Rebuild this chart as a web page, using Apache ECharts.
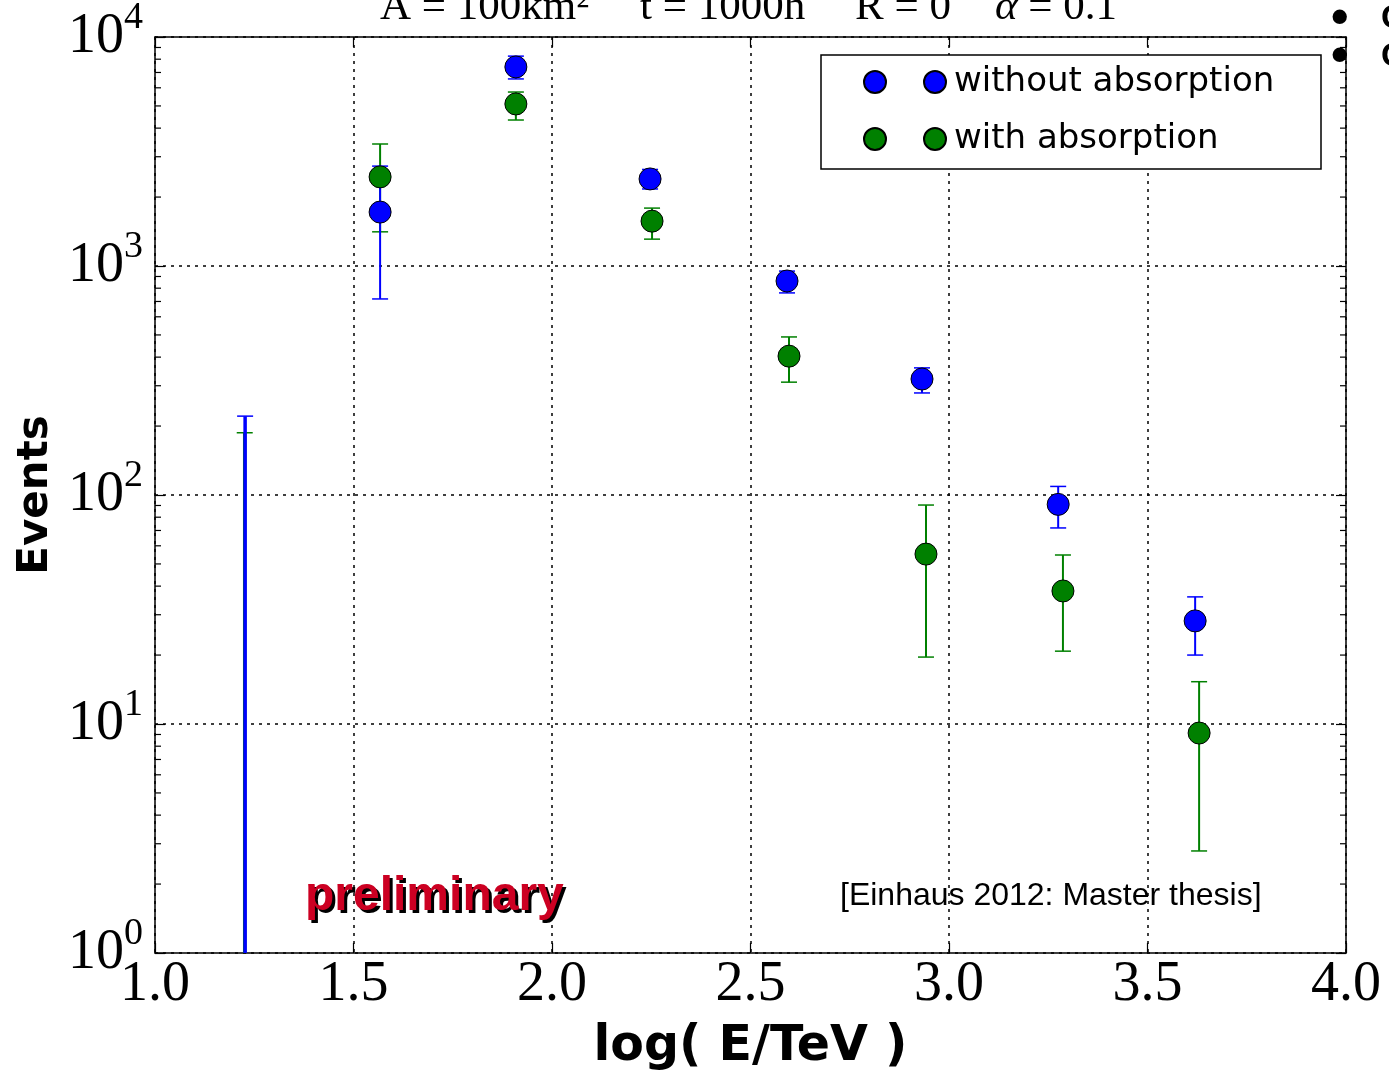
<!DOCTYPE html>
<html>
<head>
<meta charset="utf-8">
<script src="https://cdn.jsdelivr.net/npm/echarts@6/dist/echarts.min.js"></script>
<style>
  html, body { margin: 0; padding: 0; background: #fff; }
  #chart { width: 1389px; height: 1076px; }
</style>
</head>
<body>
<div id="chart"></div>
<script>
// values
const xMin = 1.0
const xMax = 4.0
const yMin = 1
const yMax = 10000

const xWithout = [1.227, 1.567, 1.909, 2.247, 2.592, 2.932, 3.275, 3.620]
const eventsWithout = [null, 1720, 7400, 2400, 860, 321, 91, 28.2]
const upperWithout = [221, 2730, 8250, 2640, 950, 359, 109, 35.9]
const lowerWithout = [0, 718, 6560, 2170, 763, 279, 71.8, 20.0]

const xWith = [1.226, 1.567, 1.909, 2.252, 2.597, 2.942, 3.287, 3.630]
const eventsWith = [null, 2450, 5100, 1570, 404, 55.2, 38.1, 9.13]
const upperWith = [187, 3410, 5750, 1790, 490, 90.4, 54.7, 15.3]
const lowerWith = [0, 1410, 4340, 1310, 311, 19.6, 20.8, 2.79]

const BLUE = '#0000ff'
const GREEN = '#008000'
const SERIF = 'Liberation Serif'
const SANS = 'DejaVu Sans'

// log minor ticks 2..9 x 10^k, like matplotlib draws them
const minorTicks = []
for (let k = 0; k < 4; k++) {
  for (let m = 2; m < 10; m++) minorTicks.push([xMin, m * Math.pow(10, k)])
}

const points = (xs, ys) => xs.map((x, i) => [x, ys[i]]).filter(p => p[1] != null)
const bars = (xs, lo, hi) => xs.map((x, i) => [x, lo[i], hi[i]])

// vertical error bar with caps; a lower value of 0 runs down to the axis
const errorBar = (color, width) => (params, api) => {
  const cs = params.coordSys
  const x = api.value(0)
  const lo = api.value(1)
  const hi = api.value(2)
  const top = api.coord([x, hi])
  const toAxis = !(lo > 0)
  const bottom = toAxis ? cs.y + cs.height : api.coord([x, lo])[1]
  const capStyle = { stroke: color, lineWidth: 1.5 }
  const children = [
    { type: 'line', shape: { x1: top[0], y1: top[1], x2: top[0], y2: bottom }, style: { stroke: color, lineWidth: toAxis ? 3.5 : width } },
    { type: 'line', shape: { x1: top[0] - 8, y1: top[1], x2: top[0] + 8, y2: top[1] }, style: capStyle }
  ]
  if (!toAxis) {
    children.push({ type: 'line', shape: { x1: top[0] - 8, y1: bottom, x2: top[0] + 8, y2: bottom }, style: capStyle })
  }
  return { type: 'group', children }
}

const minorTick = (params, api) => {
  const cs = params.coordSys
  const y = api.coord([xMin, api.value(1)])[1]
  const style = { stroke: '#000', lineWidth: 1.2 }
  return {
    type: 'group',
    children: [
      { type: 'line', shape: { x1: cs.x, y1: y, x2: cs.x + 6, y2: y }, style },
      { type: 'line', shape: { x1: cs.x + cs.width - 6, y1: y, x2: cs.x + cs.width, y2: y }, style }
    ]
  }
}

const frameLine = { show: true, onZero: false, lineStyle: { color: '#000', width: 1.5 } }
const innerTick = { show: true, inside: true, length: 10, lineStyle: { color: '#000', width: 1.2 } }
const dotted = { show: true, lineStyle: { color: '#000', width: 1.5, type: [3, 5] } }

const chart = echarts.init(document.getElementById('chart'))
chart.setOption({
  animation: false,
  backgroundColor: '#fff',
  grid: { left: 155, right: 43, top: 37, bottom: 123, containLabel: false, outerBoundsMode: 'none' },
  xAxis: [{
    type: 'value',
    min: xMin,
    max: xMax,
    interval: 0.5,
    position: 'bottom',
    axisLine: frameLine,
    axisTick: innerTick,
    splitLine: dotted,
    axisLabel: {
      margin: 4,
      hideOverlap: false,
      showMinLabel: true,
      showMaxLabel: true,
      formatter: v => v.toFixed(1),
      fontFamily: SERIF,
      fontSize: 56,
      color: '#000'
    },
    name: 'log( E/TeV )',
    nameLocation: 'middle',
    nameGap: 70,
    nameMoveOverlap: false,
    nameTextStyle: { fontFamily: SANS, fontWeight: 'bold', fontSize: 49, color: '#000' }
  }, {
    type: 'value',
    min: xMin,
    max: xMax,
    interval: 0.5,
    position: 'top',
    axisLine: frameLine,
    axisTick: innerTick,
    axisLabel: { show: false },
    splitLine: { show: false }
  }],
  yAxis: [{
    type: 'log',
    logBase: 10,
    min: yMin,
    max: yMax,
    position: 'left',
    axisLine: frameLine,
    axisTick: innerTick,
    splitLine: dotted,
    axisLabel: {
      margin: 12,
      hideOverlap: false,
      showMinLabel: true,
      showMaxLabel: true,
      formatter: v => `{b|10}{s|${Math.round(Math.log10(v))}}`,
      rich: {
        b: { fontFamily: SERIF, fontSize: 56, lineHeight: 76, color: '#000' },
        s: { fontFamily: SERIF, fontSize: 38, verticalAlign: 'top', color: '#000' }
      }
    },
    name: 'Events',
    nameLocation: 'middle',
    nameGap: 98,
    nameRotate: 90,
    nameMoveOverlap: false,
    nameTextStyle: { fontFamily: SANS, fontWeight: 'bold', fontSize: 42, color: '#000' }
  }, {
    type: 'log',
    logBase: 10,
    min: yMin,
    max: yMax,
    position: 'right',
    axisLine: frameLine,
    axisTick: innerTick,
    axisLabel: { show: false },
    splitLine: { show: false }
  }],
  legend: {
    orient: 'vertical',
    left: 821,
    top: 55,
    padding: [7, 37, 10, 42],
    itemGap: 17,
    itemWidth: 82,
    itemHeight: 22,
    selectedMode: false,
    backgroundColor: '#fff',
    borderColor: '#000',
    borderWidth: 1.5,
    borderRadius: 0,
    icon: 'path://M0,11a11,11 0 1,0 22,0a11,11 0 1,0 -22,0zM60,11a11,11 0 1,0 22,0a11,11 0 1,0 -22,0z',
    data: ['without absorption', 'with absorption'],
    textStyle: { fontFamily: SANS, fontSize: 34, lineHeight: 40, color: '#000', width: 330, padding: [0, 0, 0, 3] }
  },
  series: [{
    name: 'err with',
    type: 'custom',
    renderItem: errorBar(GREEN, 2),
    encode: { x: 0, y: [1, 2] },
    data: bars(xWith, lowerWith, upperWith),
    silent: true,
    z: 2
  }, {
    name: 'err without',
    type: 'custom',
    renderItem: errorBar(BLUE, 2),
    encode: { x: 0, y: [1, 2] },
    data: bars(xWithout, lowerWithout, upperWithout),
    silent: true,
    z: 2
  }, {
    name: 'without absorption',
    type: 'scatter',
    symbol: 'circle',
    symbolSize: 22,
    itemStyle: { color: BLUE, borderColor: '#000', borderWidth: 1, opacity: 1 },
    data: points(xWithout, eventsWithout),
    z: 3
  }, {
    name: 'with absorption',
    type: 'scatter',
    symbol: 'circle',
    symbolSize: 22,
    itemStyle: { color: GREEN, borderColor: '#000', borderWidth: 1, opacity: 1 },
    data: points(xWith, eventsWith),
    z: 4
  }, {
    name: 'minor ticks',
    type: 'custom',
    renderItem: minorTick,
    data: minorTicks,
    silent: true,
    z: 1
  }],
  graphic: [
    { type: 'text', left: 380, top: -14, style: { text: 'A = 100km²', font: `43px "${SERIF}"`, fill: '#000' } },
    { type: 'text', left: 640, top: -14, style: { text: 't = 1000h', font: `43px "${SERIF}"`, fill: '#000' } },
    { type: 'text', left: 855, top: -14, style: { text: 'R = 0', font: `43px "${SERIF}"`, fill: '#000' } },
    { type: 'text', left: 995, top: -14, style: { text: '{i|α} = 0.1', font: `43px "${SERIF}"`, fill: '#000', rich: { i: { fontStyle: 'italic', fontFamily: SERIF, fontSize: 43 } } } },
    { type: 'text', left: 1331, top: -6, style: { text: '•', font: `bold 50px "Liberation Sans"`, fill: '#000' } },
    { type: 'text', left: 1331, top: 32, style: { text: '•', font: `bold 50px "Liberation Sans"`, fill: '#000' } },
    { type: 'text', left: 1381, top: 2, style: { text: 'C', font: `bold 34px "Liberation Sans"`, fill: '#000' } },
    { type: 'text', left: 1381, top: 40, style: { text: 'C', font: `bold 34px "Liberation Sans"`, fill: '#000' } },
    { type: 'text', left: 308, top: 876, z: 10, style: { text: 'preliminary', font: `bold 48px "Liberation Sans"`, fill: '#000' } },
    { type: 'text', left: 305, top: 873, z: 11, style: { text: 'preliminary', font: `bold 48px "Liberation Sans"`, fill: '#cc0022' } },
    { type: 'text', left: 840, top: 880, z: 10, style: { text: '[Einhaus 2012: Master thesis]', font: `32px "Liberation Sans"`, fill: '#000' } }
  ]
})
</script>
</body>
</html>
